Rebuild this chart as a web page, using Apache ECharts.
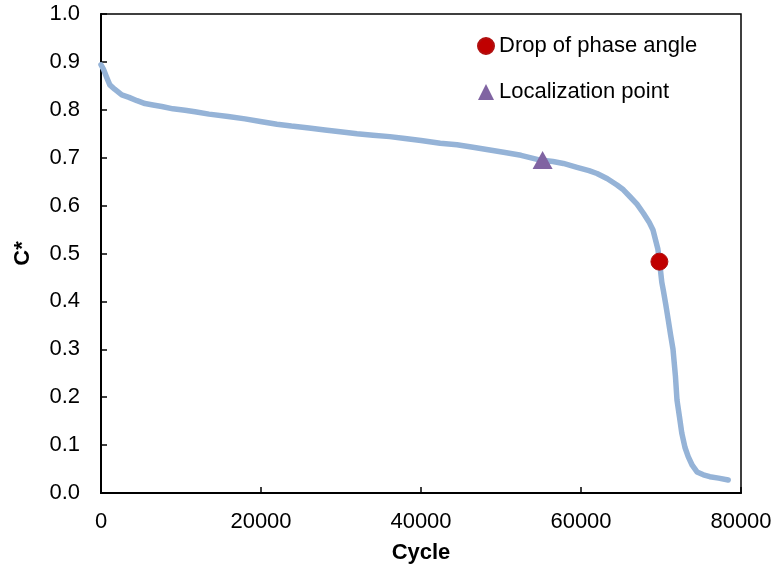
<!DOCTYPE html>
<html>
<head>
<meta charset="utf-8">
<title>C* vs Cycle</title>
<script src="https://cdn.jsdelivr.net/npm/echarts@6/dist/echarts.min.js"></script>
<style>
  html, body { margin: 0; padding: 0; background: #fff; }
  #chart { width: 773px; height: 566px; }
</style>
</head>
<body>
<div id="chart"></div>
<script>
// Normalised capacity C* over loading cycles
const cycles = [0, 300, 700, 1100, 1700, 2600, 3500, 4500, 5500, 6500, 7600, 9000, 10500, 11750,
  13500, 15900, 18000, 20100, 22000, 23800, 26000, 28000, 29900, 32000, 34000, 36100, 38000,
  40000, 42400, 44500, 46500, 48600, 50500, 52500, 54900, 56500, 57800, 59500, 61000, 62000,
  63300, 64500, 65300, 66100, 67000, 67800, 68500, 69000, 69600, 69800, 70100, 70300, 70600,
  70900, 71200, 71500, 71800, 72000, 72300, 72600, 73000, 73400, 73900, 74500, 75300, 76100,
  77200, 78400];
const cStar = [0.894, 0.885, 0.868, 0.852, 0.843, 0.831, 0.826, 0.819, 0.813, 0.810, 0.807, 0.802,
  0.799, 0.796, 0.791, 0.786, 0.781, 0.775, 0.770, 0.766, 0.762, 0.758, 0.754, 0.750, 0.747,
  0.744, 0.740, 0.736, 0.730, 0.727, 0.722, 0.716, 0.711, 0.705, 0.695, 0.692, 0.688, 0.680,
  0.673, 0.667, 0.656, 0.643, 0.633, 0.619, 0.603, 0.584, 0.566, 0.549, 0.510, 0.485, 0.440,
  0.422, 0.393, 0.362, 0.330, 0.300, 0.245, 0.194, 0.160, 0.125, 0.095, 0.076, 0.058, 0.044,
  0.038, 0.034, 0.031, 0.027];

// Marked events on the curve: [cycle, C*]
const phaseDrop = [69800, 0.483];
const localization = [55200, 0.695];

const legendNames = ['Drop of phase angle', 'Localization point'];

const curve = cycles.map((c, i) => [c, cStar[i]]);

const font = '"Liberation Sans", Arial, sans-serif';

const chart = echarts.init(document.getElementById('chart'), null, { renderer: 'canvas' });
chart.setOption({
  animation: false,
  backgroundColor: '#fff',
  textStyle: { fontFamily: font },
  grid: {
    left: 101, right: 32, top: 14, bottom: 73,
    outerBoundsMode: 'none', containLabel: false,
    show: true, borderColor: '#000', borderWidth: 1.5, backgroundColor: 'transparent'
  },
  legend: {
    orient: 'vertical',
    left: 477, top: 35, padding: 0,
    itemWidth: 16, itemHeight: 16, itemGap: 24,
    textStyle: { fontFamily: font, fontSize: 22, color: '#000' },
    data: [
      { name: legendNames[0], icon: 'circle' },
      { name: legendNames[1], icon: 'triangle' }
    ]
  },
  xAxis: {
    type: 'value', min: 0, max: 80000, interval: 20000,
    name: 'Cycle', nameLocation: 'middle', nameGap: 49,
    nameTextStyle: { fontFamily: font, fontSize: 22, fontWeight: 'bold', color: '#000' },
    axisLine: { show: true, lineStyle: { color: '#000', width: 2 } },
    axisTick: { show: true, inside: true, length: 6, lineStyle: { color: '#000', width: 1.5 } },
    axisLabel: {
      margin: 18, fontFamily: font, fontSize: 22, color: '#000',
      formatter: v => String(v)
    },
    splitLine: { show: false }
  },
  yAxis: {
    type: 'value', min: 0, max: 1, interval: 0.1,
    name: 'C*', nameLocation: 'middle', nameGap: 67,
    nameTextStyle: { fontFamily: font, fontSize: 22, fontWeight: 'bold', color: '#000' },
    axisLine: { show: true, lineStyle: { color: '#000', width: 2 } },
    axisTick: { show: true, inside: true, length: 6, lineStyle: { color: '#000', width: 1.5 } },
    axisLabel: {
      margin: 21, fontFamily: font, fontSize: 22, color: '#000',
      formatter: v => v.toFixed(1)
    },
    splitLine: { show: false }
  },
  series: [
    {
      name: 'C*', type: 'line', data: curve, showSymbol: false, symbol: 'none',
      lineStyle: { color: '#95b3d7', width: 5.5, cap: 'round', join: 'round' },
      z: 2
    },
    {
      name: legendNames[1], type: 'scatter', data: [localization],
      symbol: 'triangle', symbolSize: [20, 18],
      itemStyle: { color: '#8064a2', opacity: 1 }, z: 3
    },
    {
      name: legendNames[0], type: 'scatter', data: [phaseDrop],
      symbol: 'circle', symbolSize: 17,
      itemStyle: { color: '#c00000', borderColor: '#b01010', borderWidth: 1, opacity: 1 }, z: 3
    }
  ]
});
</script>
</body>
</html>
